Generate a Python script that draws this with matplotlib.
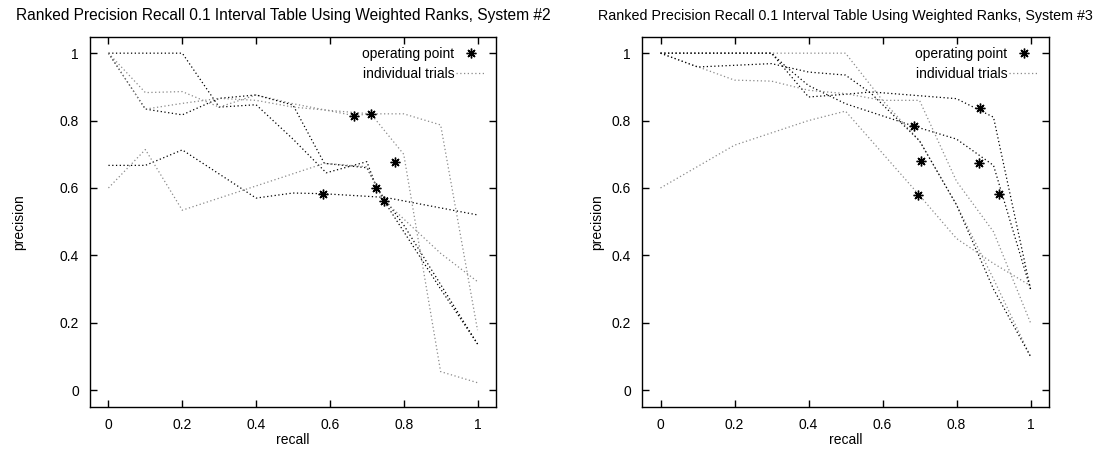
import matplotlib
matplotlib.use("Agg")
import matplotlib.pyplot as plt
from matplotlib.lines import Line2D

plt.rcParams['font.family'] = ['Liberation Sans', 'DejaVu Sans']
plt.rcParams['font.size'] = 10

# ----------------------
# data: recall / precision per trial
# ----------------------
# System #2
sys2_recall = [
    [0.0, 0.1, 0.2, 0.3, 0.4, 0.5, 0.59, 0.7, 0.727, 0.8, 1.0],
    [0.0, 0.1, 0.2, 0.3, 0.4, 0.5, 0.664, 0.711, 0.8, 0.9, 1.0],
    [0.0, 0.1, 0.2, 0.3, 0.4, 0.5, 0.585, 0.7, 0.747, 0.9, 1.0],
    [0.0, 0.1, 0.2, 0.3, 0.4, 0.5, 0.6, 0.711, 0.8, 0.9, 1.0],
    [0.0, 0.1, 0.2, 0.4, 0.5, 0.581, 0.75, 1.0],
    [0.0, 0.1, 0.2, 0.4, 0.585, 0.7, 0.745, 0.9, 1.0],
]
sys2_precision = [
    [1.0, 1.0, 1.0, 0.84, 0.847, 0.745, 0.645, 0.678, 0.6, 0.49, 0.137],
    [1.0, 0.883, 0.886, 0.84, 0.876, 0.85, 0.815, 0.82, 0.82, 0.787, 0.178],
    [1.0, 0.834, 0.817, 0.866, 0.876, 0.846, 0.673, 0.66, 0.561, 0.30, 0.137],
    [1.0, 0.834, 0.851, 0.866, 0.86, 0.84, 0.83, 0.82, 0.70, 0.055, 0.022],
    [0.667, 0.667, 0.713, 0.57, 0.585, 0.583, 0.572, 0.52],
    [0.6, 0.714, 0.534, 0.606, 0.673, 0.663, 0.564, 0.406, 0.322],
]
sys2_op_recall = [0.664, 0.711, 0.776, 0.725, 0.747, 0.581]
sys2_op_precision = [0.815, 0.819, 0.676, 0.599, 0.561, 0.583]

# System #3
sys3_recall = [
    [0.0, 0.3, 0.4, 0.5, 0.57, 0.8, 0.9, 1.0],
    [0.0, 0.5, 0.6, 0.7, 0.8, 0.9, 1.0],
    [0.0, 0.3, 0.34, 0.4, 0.5, 0.686, 0.8, 0.9, 1.0],
    [0.0, 0.2, 0.3, 0.4, 0.5, 0.6, 0.7, 0.8, 0.9, 1.0],
    [0.0, 0.1, 0.3, 0.4, 0.5, 0.57, 0.7, 0.8, 0.9, 1.0],
    [0.0, 0.2, 0.4, 0.5, 0.7, 0.8, 0.9, 1.0],
]
sys3_precision = [
    [1.0, 1.0, 0.87, 0.878, 0.885, 0.865, 0.81, 0.30],
    [1.0, 1.0, 0.86, 0.74, 0.55, 0.33, 0.10],
    [1.0, 1.0, 0.959, 0.904, 0.85, 0.783, 0.745, 0.667, 0.30],
    [1.0, 0.92, 0.917, 0.89, 0.88, 0.86, 0.86, 0.62, 0.47, 0.20],
    [1.0, 0.959, 0.969, 0.944, 0.935, 0.88, 0.74, 0.55, 0.30, 0.10],
    [0.6, 0.727, 0.80, 0.828, 0.578, 0.45, 0.376, 0.31],
]
sys3_op_recall = [0.864, 0.686, 0.703, 0.861, 0.695, 0.916]
sys3_op_precision = [0.838, 0.783, 0.680, 0.675, 0.578, 0.581]

titles = ["Ranked Precision Recall 0.1 Interval Table Using Weighted Ranks, System #2",
          "Ranked Precision Recall 0.1 Interval Table Using Weighted Ranks, System #3"]
title_sizes = [11.2, 10.3]
title_x = [0.475, 0.5]
ylabel_pads = [24, 5]
ticks = [0, 0.2, 0.4, 0.6, 0.8, 1]
tick_labels = ["0", "0.2", "0.4", "0.6", "0.8", "1"]

line_colors = ['#000000', '#8a8a8a', '#000000', '#8a8a8a', '#000000', '#8a8a8a']
dots = (0, (1, 2))
star = (8, 2, 0)

fig = plt.figure(figsize=(10.98, 4.51), dpi=100)
ax1 = fig.add_axes([90/1098, 44/451, 406/1098, 370/451])
ax2 = fig.add_axes([642/1098, 44/451, 407/1098, 370/451])

panels = [
    (ax1, sys2_recall, sys2_precision, sys2_op_recall, sys2_op_precision),
    (ax2, sys3_recall, sys3_precision, sys3_op_recall, sys3_op_precision),
]

for k, (ax, rec, prec, op_r, op_p) in enumerate(panels):
    for i, (r, p) in enumerate(zip(rec, prec)):
        ax.plot(r, p, linestyle=dots, color=line_colors[i], lw=0.9)
    ax.plot(op_r, op_p, linestyle='none', marker=star, markersize=7,
            markeredgewidth=1.0, color='black')

    ax.set_xlim(-0.05, 1.05)
    ax.set_ylim(-0.05, 1.048)
    ax.set_xticks(ticks)
    ax.set_xticklabels(tick_labels)
    ax.set_yticks(ticks)
    ax.set_yticklabels(tick_labels)
    ax.tick_params(direction='in', length=5, width=1, top=True, right=True,
                   labelsize=10, pad=8)
    for s in ax.spines.values():
        s.set_linewidth(1)
    ax.set_xlabel("recall", fontsize=10, labelpad=1)
    ax.set_ylabel("precision", fontsize=10, labelpad=ylabel_pads[k])
    ax.set_title(titles[k], fontsize=title_sizes[k], pad=12, x=title_x[k])

    handles = [
        Line2D([], [], linestyle='none', marker=star, markersize=7,
               markeredgewidth=1.0, color='black'),
        Line2D([], [], linestyle=dots, color='#8a8a8a', lw=0.9),
    ]
    ax.legend(handles, ["operating point", "individual trials"], loc='upper right',
              markerfirst=False, frameon=False, fontsize=10, handlelength=2.2,
              handletextpad=0.1, labelspacing=0.45, borderaxespad=0.3)

fig.savefig("out.png", dpi=100)
